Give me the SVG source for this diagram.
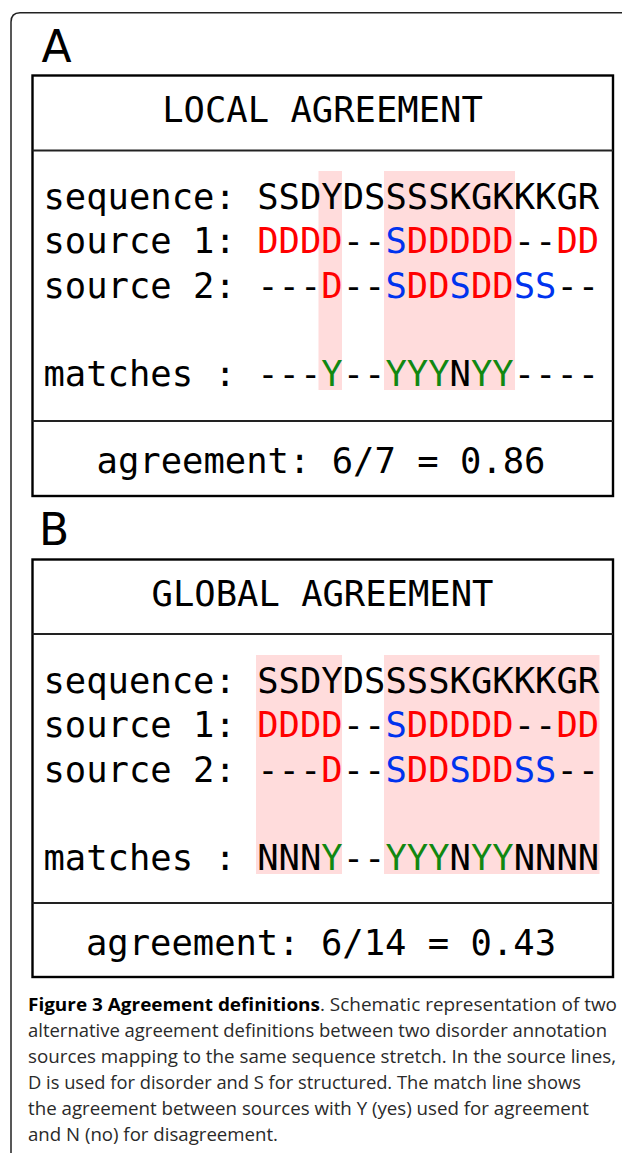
<svg xmlns="http://www.w3.org/2000/svg" width="622" height="1153" viewBox="0 0 622 1153">
<style>
.frame{fill:none;stroke:#222;stroke-width:1.5}
.box{fill:#fff;stroke:#000;stroke-width:2.4}
.div{stroke:#222;stroke-width:2}
.hl{fill:#ffdcdc}
.lab{font-family:"DejaVu Sans",sans-serif;font-size:44px;fill:#000}
.mono{font-family:"DejaVu Sans Mono",monospace;font-size:35.5px;fill:#000}
.mid{text-anchor:middle}
.r{fill:#ff0000}
.b{fill:#0033ee}
.g{fill:#118811}
.cap{font-family:"Open Sans","Noto Sans",sans-serif;font-size:18px;fill:#2a2a2a}
.bold{font-weight:bold;fill:#000}
</style>
<path class="frame" d="M11 1153 V22 Q11 12.7 20 12.7 H622"/>
<g id="panelA">
<text class="lab" x="41.5" y="62.3">A</text>
<rect class="box" x="32.5" y="75.5" width="580.5" height="420.5"/>
<line class="div" x1="32.5" y1="150.5" x2="613" y2="150.5"/>
<line class="div" x1="32.5" y1="421" x2="613" y2="421"/>
<rect class="hl" x="318.5" y="171" width="23.5" height="219"/>
<rect class="hl" x="384" y="171" width="131" height="219"/>
<text class="mono mid" x="322.5" y="122">LOCAL AGREEMENT</text>
<text class="mono" x="43.5" y="209">sequence: SSDYDSSSSKGKKKGR</text>
<text class="mono" x="43.5" y="253">source 1: <tspan class="r">DDDD</tspan>--<tspan class="b">S</tspan><tspan class="r">DDDDD</tspan>--<tspan class="r">DD</tspan></text>
<text class="mono" x="43.5" y="297.5">source 2: ---<tspan class="r">D</tspan>--<tspan class="b">S</tspan><tspan class="r">DD</tspan><tspan class="b">S</tspan><tspan class="r">DD</tspan><tspan class="b">SS</tspan>--</text>
<text class="mono" x="43.5" y="385.5">matches : ---<tspan class="g">Y</tspan>--<tspan class="g">YYY</tspan>N<tspan class="g">YY</tspan>----</text>
<text class="mono mid" x="321" y="473">agreement: 6/7 = 0.86</text>
</g>
<g id="panelB">
<text class="lab" x="39" y="544.5">B</text>
<rect class="box" x="32.5" y="559.5" width="580.5" height="417.5"/>
<line class="div" x1="32.5" y1="634" x2="613" y2="634"/>
<line class="div" x1="32.5" y1="903" x2="613" y2="903"/>
<rect class="hl" x="256" y="655" width="86" height="219"/>
<rect class="hl" x="384" y="655" width="215.5" height="219"/>
<text class="mono mid" x="322.5" y="606">GLOBAL AGREEMENT</text>
<text class="mono" x="43.5" y="693">sequence: SSDYDSSSSKGKKKGR</text>
<text class="mono" x="43.5" y="737">source 1: <tspan class="r">DDDD</tspan>--<tspan class="b">S</tspan><tspan class="r">DDDDD</tspan>--<tspan class="r">DD</tspan></text>
<text class="mono" x="43.5" y="781.5">source 2: ---<tspan class="r">D</tspan>--<tspan class="b">S</tspan><tspan class="r">DD</tspan><tspan class="b">S</tspan><tspan class="r">DD</tspan><tspan class="b">SS</tspan>--</text>
<text class="mono" x="43.5" y="869.5">matches : NNN<tspan class="g">Y</tspan>--<tspan class="g">YYY</tspan>N<tspan class="g">YY</tspan>NNNN</text>
<text class="mono mid" x="321" y="955">agreement: 6/14 = 0.43</text>
</g>
<g id="caption">
<text class="cap" x="28" y="1011" textLength="589" lengthAdjust="spacingAndGlyphs"><tspan class="bold">Figure 3 Agreement definitions</tspan>. Schematic representation of two</text>
<text class="cap" x="28" y="1037" textLength="579" lengthAdjust="spacingAndGlyphs">alternative agreement definitions between two disorder annotation</text>
<text class="cap" x="28" y="1063" textLength="588" lengthAdjust="spacingAndGlyphs">sources mapping to the same sequence stretch. In the source lines,</text>
<text class="cap" x="28" y="1089" textLength="553" lengthAdjust="spacingAndGlyphs">D is used for disorder and S for structured. The match line shows</text>
<text class="cap" x="28" y="1115" textLength="561" lengthAdjust="spacingAndGlyphs">the agreement between sources with Y (yes) used for agreement</text>
<text class="cap" x="28" y="1141" textLength="250" lengthAdjust="spacingAndGlyphs">and N (no) for disagreement.</text>
</g>
</svg>
